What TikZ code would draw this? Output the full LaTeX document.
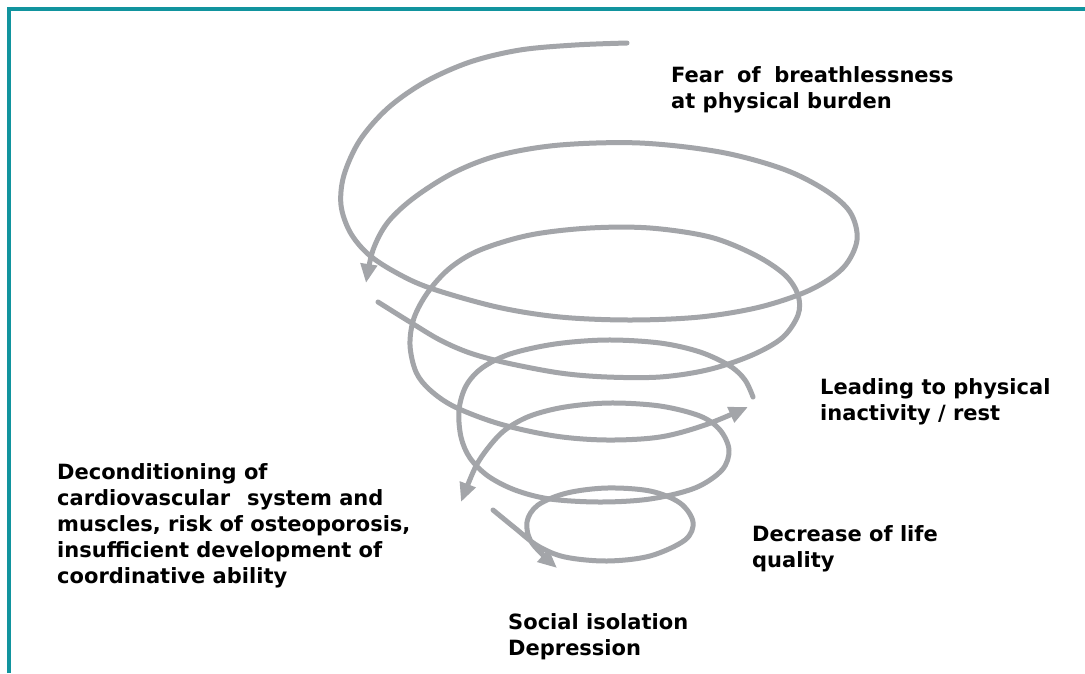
\documentclass[tikz,border=0pt]{standalone}
\usepackage{fontspec}
\setmainfont{DejaVu Sans}
\usetikzlibrary{arrows.meta}
\definecolor{frameteal}{RGB}{17,148,158}
\definecolor{spiralgrey}{RGB}{163,165,169}
\tikzset{
  coil/.style={draw=spiralgrey, line width=5pt, line cap=round, line join=round},
  coilarrow/.style={coil, -{Triangle[width=16pt,length=19pt]}},
  lbl/.style={anchor=north west, inner sep=0pt, align=left,
    font=\fontsize{21}{26.2}\selectfont\bfseries, text=black},
}
\begin{document}
\begin{tikzpicture}[x=1pt,y=-1pt]
\useasboundingbox (0,0) rectangle (1085,673);
\fill[white] (0,0) rectangle (1085,673);
% frame
\draw[frameteal, line width=4pt] (9.3,673) -- (9.3,8.6) -- (1085,8.6);

% segment 1 : top loop + first ring
\draw[coilarrow] plot[smooth, tension=0.55] coordinates {
 (627,43) (575,45) (520,50) (470,62) (425,82) (388,108) (360,140) (344,175)
 (341,205) (350,232) (368,254) (395,272) (430,288) (497,307) (560,317)
 (630,320) (700,317) (760,307) (810,290) (843,268) (857,240) (850,212)
 (825,190) (783,169) (720,152) (640,143) (560,145) (500,155) (455,172)
 (415,197) (388,222) (373,250) (366,283)};

% segment 2
\draw[coilarrow] plot[smooth, tension=0.55] coordinates {
 (378,302) (410,322) (440,340) (470,353) (507,363) (560,373) (607,377)
 (660,377) (707,370) (750,356) (782,338) (798,315) (798,295) (785,275)
 (755,255) (710,237) (650,228) (590,228) (530,235) (480,250) (450,268)
 (428,292) (414,318) (410,345) (416,372) (430,390) (455,407) (500,424)
 (555,436) (607,440) (660,437) (705,425) (748,407)};

% segment 3
\draw[coilarrow] plot[smooth, tension=0.55] coordinates {
 (753,397) (745,380) (730,366) (700,352) (660,343) (607,340) (555,344)
 (510,354) (482,368) (466,386) (459,410) (461,437) (470,458) (488,476)
 (515,490) (550,499) (600,502) (650,499) (695,488) (722,470) (729,450)
 (720,430) (700,416) (660,406) (610,403) (565,407) (530,416) (505,430)
 (488,448) (475,468) (461,502)};

% segment 4
\draw[coilarrow] plot[smooth, tension=0.55] coordinates {
 (493,510) (515,528) (538,546) (565,557) (607,561) (650,556) (685,540)
 (693,522) (680,503) (650,491) (607,488) (567,493) (538,505) (527,522)
 (532,543) (557,568)};

% labels
\node[lbl] (fear) at (671,66) {Fear\hspace{0.65em}of\hspace{0.65em}breathlessness\\at physical burden};
\node[lbl] (lead) at (820,378) {Leading to physical\\inactivity / rest};
\node[lbl] (decond) at (57,463) {Deconditioning of\\cardiovascular\hspace{0.8em}system and\\muscles, risk of osteoporosis,\\insufficient development of\\coordinative ability};
\node[lbl] (life) at (752,525) {Decrease of life\\quality};
\node[lbl] (social) at (508,613) {Social isolation\\Depression};
\end{tikzpicture}
\end{document}
